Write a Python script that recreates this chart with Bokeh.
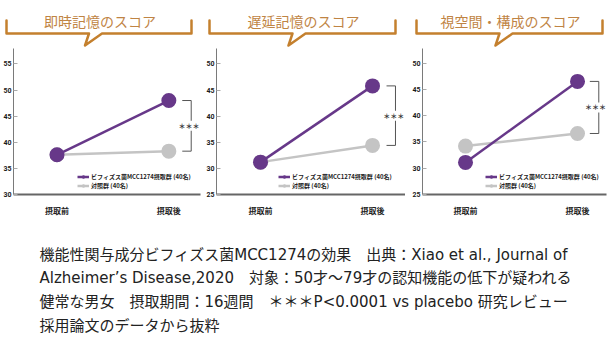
from bokeh.plotting import figure
from bokeh.layouts import column, row
from bokeh.models import Range1d, FixedTicker, Legend, LegendItem
from bokeh.core.properties import value
from bokeh.embed import file_html
from bokeh.resources import INLINE

# ---------------- data ----------------
titles = ["即時記憶のスコア", "遅延記憶のスコア", "視空間・構成のスコア"]
timepoints = ["摂取前", "摂取後"]
series_names = ["ビフィズス菌MCC1274摂取群 (40名)", "対照群 (40名)"]
bifido_1 = [37.6, 48.0]
placebo_1 = [37.6, 38.3]
bifido_2 = [31.2, 45.8]
placebo_2 = [31.2, 34.4]
bifido_3 = [31.1, 46.5]
placebo_3 = [34.2, 36.6]
y_ticks_1 = [30, 35, 40, 45, 50, 55]
y_ticks_2 = [25, 30, 35, 40, 45, 50]
y_ticks_3 = [25, 30, 35, 40, 45, 50]
sig_label = "＊＊＊"
footnote_lines = [
    "機能性関与成分ビフィズス菌MCC1274の効果　出典：Xiao et al., Journal of",
    "Alzheimer’s Disease,2020　対象：50才～79才の認知機能の低下が疑われる",
    "健常な男女　摂取期間：16週間　＊＊＊P<0.0001 vs placebo 研究レビュー",
    "採用論文のデータから抜粋",
]

# ---------------- style ----------------
PURPLE = "#673889"
GRAY = "#c4c4c4"
BROWN = "#c4802e"
TITLE_C = "#bf8444"
JP = "Noto Sans CJK JP"
W = 608
HEADER_H = 48
FRAME_H = 151
BOTTOM_B = 19
FOOT_H = 357 - HEADER_H - FRAME_H - BOTTOM_B

panels = [
    dict(title=titles[0], b=bifido_1, pl=placebo_1, ticks=y_ticks_1,
         lb=11, fw=189, rb=2, xr=(-0.389, 1.283), yr=(30, 30 + FRAME_H / 5.4),
         leg=64, br=1.2, st=1.18),
    dict(title=titles[1], b=bifido_2, pl=placebo_2, ticks=y_ticks_2,
         lb=14, fw=189, rb=0, xr=(-0.393, -0.393 + 189 / 112), yr=(25, 25 + FRAME_H / 5.4),
         leg=62, br=1.205, st=1.19),
    dict(title=titles[2], b=bifido_3, pl=placebo_3, ticks=y_ticks_3,
         lb=17, fw=184, rb=2, xr=(-0.384, -0.384 + 184 / 112), yr=(25, 25 + FRAME_H / 5.44),
         leg=63, br=1.19, st=1.16),
]

x_idx = list(range(len(timepoints)))
figs = []
for pd_ in panels:
    p = figure(width=pd_["lb"] + pd_["fw"] + pd_["rb"], height=FRAME_H + BOTTOM_B,
               x_range=Range1d(*pd_["xr"]), y_range=Range1d(*pd_["yr"]),
               output_backend="svg", toolbar_location=None,
               min_border_left=pd_["lb"], min_border_right=pd_["rb"],
               min_border_top=0, min_border_bottom=BOTTOM_B)
    p.outline_line_color = None
    p.grid.visible = False
    p.background_fill_color = "white"
    p.border_fill_color = None

    ya = p.yaxis[0]
    ya.ticker = FixedTicker(ticks=pd_["ticks"])
    ya.axis_line_color = "#7a7a7a"
    ya.axis_line_width = 1
    ya.major_tick_in = 4
    ya.major_tick_out = 0
    ya.major_tick_line_color = "#aaaaaa"
    ya.minor_tick_line_color = None
    ya.major_label_standoff = 2
    ya.major_label_text_font = "Roboto"
    ya.major_label_text_font_style = "bold"
    ya.major_label_text_font_size = "7px"
    ya.major_label_text_color = "#1a1a1a"

    xa = p.xaxis[0]
    xa.ticker = FixedTicker(ticks=x_idx)
    xa.major_label_overrides = {i: t for i, t in zip(x_idx, timepoints)}
    xa.axis_line_color = "#666666"
    xa.axis_line_width = 2
    xa.major_tick_line_color = None
    xa.minor_tick_line_color = None
    xa.major_label_standoff = 4
    xa.major_label_text_font = JP
    xa.major_label_text_font_style = "bold"
    xa.major_label_text_font_size = "8px"
    xa.major_label_text_color = "#222222"

    gl = p.line(x_idx, pd_["pl"], line_color=GRAY, line_width=2.5)
    gs = p.scatter(x_idx, pd_["pl"], size=15, fill_color=GRAY, line_color=None)
    bl = p.line(x_idx, pd_["b"], line_color=PURPLE, line_width=2.5)
    bs = p.scatter(x_idx, pd_["b"], size=15, fill_color=PURPLE, line_color=None)

    hi, lo = pd_["b"][1], pd_["pl"][1]
    br = pd_["br"]
    p.line([br - 0.08, br, br, br - 0.08], [hi, hi, lo, lo], line_color="#555555", line_width=1)
    p.text([pd_["st"]], [(hi + lo) / 2], text=[sig_label], text_align="center",
           text_baseline="middle", text_font=value(JP), text_font_style="bold",
           text_font_size="7px", text_color="#333333",
           background_fill_color="white")

    leg = Legend(items=[LegendItem(label=series_names[0], renderers=[bl, bs]),
                        LegendItem(label=series_names[1], renderers=[gl, gs])],
                 location=(pd_["leg"], 4), padding=0, margin=0, spacing=0,
                 glyph_width=12, glyph_height=9, label_height=8, label_standoff=2,
                 border_line_color=None, background_fill_alpha=0,
                 label_text_font=JP, label_text_font_style="bold",
                 label_text_font_size="6px", label_text_color="#222222")
    p.add_layout(leg)
    figs.append(p)

# ---------------- header ----------------
hdr = figure(width=W, height=HEADER_H, x_range=Range1d(0, W), y_range=Range1d(HEADER_H, 0),
             output_backend="svg", toolbar_location=None,
             min_border_left=0, min_border_right=0, min_border_top=0, min_border_bottom=0)
hdr.axis.visible = False
hdr.grid.visible = False
hdr.outline_line_color = None
bracket_spans = [(6, 191), (209, 395), (416, 602)]
for (l, r), t in zip(bracket_spans, titles):
    c = (l + r) / 2
    hdr.line([l, l, c - 10, c - 14, c + 3, r, r], [20, 33, 33, 45, 33, 33, 20],
             line_color=BROWN, line_width=2.5, line_join="round", line_cap="round")
    hdr.text([c + 1], [20], text=[t], text_align="center", text_baseline="middle",
             text_font=value(JP), text_font_size="14px", text_color=TITLE_C)

# ---------------- footer ----------------
ftr = figure(width=W, height=FOOT_H, x_range=Range1d(0, W), y_range=Range1d(FOOT_H, 0),
             output_backend="svg", toolbar_location=None,
             min_border_left=0, min_border_right=0, min_border_top=0, min_border_bottom=0)
ftr.axis.visible = False
ftr.grid.visible = False
ftr.outline_line_color = None
ftr.text([39] * len(footnote_lines), [36 + 23.7 * i for i in range(len(footnote_lines))],
         text=footnote_lines, text_align="left", text_baseline="middle",
         text_font=value("DejaVu Sans, Noto Sans CJK JP"), text_font_size="15px",
         text_color="#222222")

layout = column(hdr, row(*figs, spacing=0), ftr, spacing=0)
open("out.html", "w").write(file_html(layout, INLINE))
